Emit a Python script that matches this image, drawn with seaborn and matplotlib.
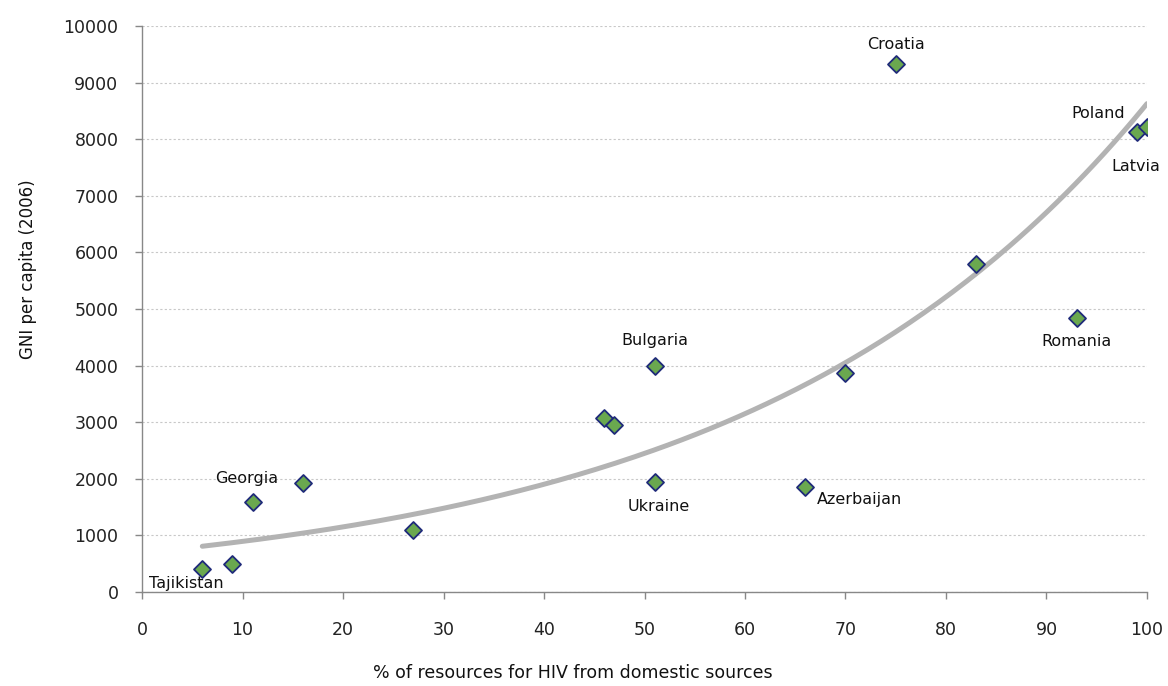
import numpy as np
import pandas as pd
import matplotlib
matplotlib.use("Agg")
import matplotlib.pyplot as plt
import seaborn as sns

# % of HIV resources from domestic sources vs GNI per capita (2006)
domestic_pct = [6, 9, 11, 16, 27, 46, 47, 51, 51, 66, 70, 75, 83, 93, 99, 100]
gni = [400, 500, 1590, 1925, 1095, 3075, 2950, 3990, 1945, 1855, 3870, 9330, 5790, 4840, 8120, 8210]
country = ["Tajikistan", "", "Georgia", "", "", "", "", "Bulgaria", "Ukraine",
           "Azerbaijan", "", "Croatia", "", "Romania", "Poland", "Latvia"]

x_ticks = list(range(0, 101, 10))
y_ticks = list(range(0, 10001, 1000))

# label placement (offset pixels, alignment)
label_pos = {
    "Tajikistan": (-16, -14, "center"),
    "Georgia": (-6, 24, "center"),
    "Bulgaria": (0, 26, "center"),
    "Ukraine": (4, -25, "center"),
    "Azerbaijan": (12, -12, "left"),
    "Croatia": (0, 19, "center"),
    "Romania": (0, -23, "center"),
    "Poland": (-12, 19, "right"),
    "Latvia": (-11, -39, "center"),
}

df = pd.DataFrame({"pct": domestic_pct, "gni": gni, "country": country})

# exponential trendline fitted on the points
b, a = np.polyfit(df["pct"], np.log(df["gni"]), 1)
trend_x = np.linspace(df["pct"].min(), df["pct"].max(), 200)
trend = pd.DataFrame({"pct": trend_x, "gni": np.exp(a + b * trend_x)})

sns.set_style("white")
plt.rcParams["font.family"] = ["DejaVu Sans"]

fig = plt.figure(figsize=(11.68, 6.86), dpi=100)
ax = fig.add_axes([0.1216, 0.137, 0.8604, 0.825])

ax.grid(axis="y", color="#c8c8c8", linestyle=(0, (2, 2)), linewidth=0.8)
ax.set_axisbelow(True)

sns.lineplot(data=trend, x="pct", y="gni", color="#b3b3b3", linewidth=3.6, ax=ax, zorder=2)
sns.scatterplot(data=df, x="pct", y="gni", marker="D", s=75, color="#6aa84f",
                edgecolor="#1f2a7a", linewidth=1.3, ax=ax, zorder=3)

for _, row in df.iterrows():
    if row["country"]:
        dx, dy, ha = label_pos[row["country"]]
        ax.annotate(row["country"], (row["pct"], row["gni"]), xytext=(dx, dy),
                    textcoords="offset pixels", ha=ha, va="center", fontsize=11.5,
                    color="#111111")

ax.set_xlim(0, 100)
ax.set_ylim(0, 10000)
ax.set_xticks(x_ticks)
ax.set_yticks(y_ticks)
ax.tick_params(axis="both", labelsize=12.5, colors="#222222", length=5, width=1,
               direction="out", color="#888888")
ax.tick_params(axis="y", pad=12)
ax.tick_params(axis="x", pad=16)
ax.tick_params(bottom=True, left=True)

for s in ["top", "right"]:
    ax.spines[s].set_visible(False)
for s in ["left", "bottom"]:
    ax.spines[s].set_color("#888888")
    ax.spines[s].set_linewidth(1)

ax.set_xlabel("% of resources for HIV from domestic sources", fontsize=12.5, color="#111111")
ax.set_ylabel("GNI per capita (2006)", fontsize=12, color="#111111")
ax.xaxis.set_label_coords(0.429, -0.127)
ax.yaxis.set_label_coords(-0.105, 0.57)

fig.savefig("out.png", dpi=100)
